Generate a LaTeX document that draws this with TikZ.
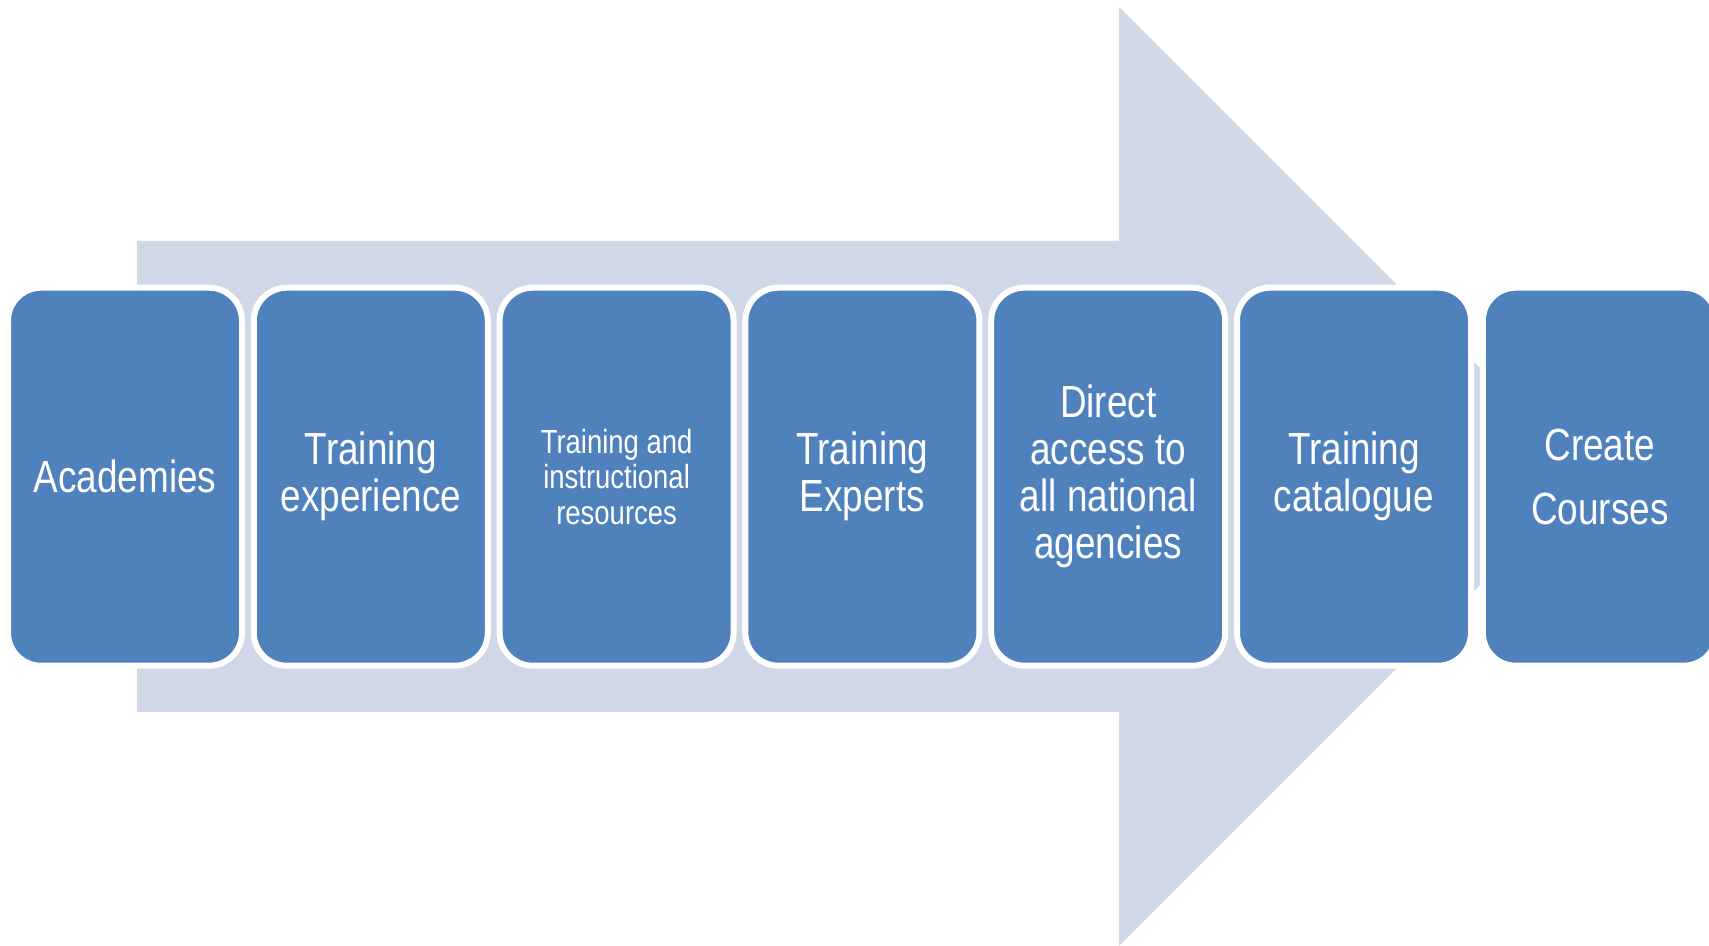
\documentclass[tikz,border=0pt]{standalone}
\usepackage{fontspec}
\setmainfont{Liberation Sans}[FakeStretch=0.82]
\definecolor{boxblue}{HTML}{4F81BD}
\definecolor{arrowblue}{HTML}{D0D8E8}
\begin{document}
\begin{tikzpicture}[x=0.5pt,y=-0.5pt,
  stepbox/.style={draw=white, line width=3pt, fill=boxblue, rounded corners=16.5pt,
    minimum width=117pt, minimum height=189pt, text=white, align=center, inner sep=0pt,
    font=\fontsize{22.5}{23.5}\selectfont}]
\clip (0,0) rectangle (1709,946);
\fill[arrowblue] (137,241) -- (1119,241) -- (1119,7) -- (1588.5,476.5) -- (1119,946) -- (1119,712) -- (137,712) -- cycle;
\node[stepbox] (b1) at (125,476.7) {Academies};
\node[stepbox] (b2) at (370.8,476.7) {Training\\experience};
\node[stepbox, font=\fontsize{16.75}{17.7}\selectfont] (b3) at (616.6,476.7) {Training and\\instructional\\resources};
\node[stepbox] (b4) at (862.4,476.7) {Training\\Experts};
\node[stepbox] (b5) at (1108.2,476.7) {Direct\\access to\\all national\\agencies};
\node[stepbox] (b6) at (1354,476.7) {Training\\catalogue};
\node[stepbox, font=\fontsize{22.5}{32}\selectfont] (b7) at (1599.8,476.7) {Create\\Courses};
\end{tikzpicture}
\end{document}
